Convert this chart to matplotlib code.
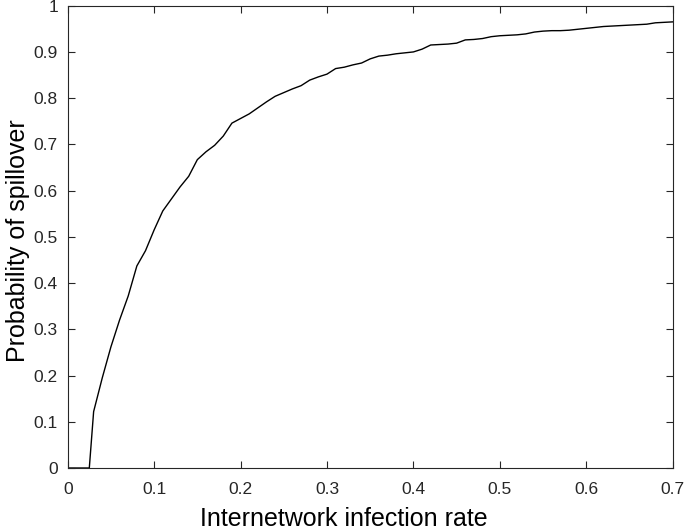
import matplotlib
matplotlib.use("Agg")
import matplotlib.pyplot as plt

plt.rcParams['font.family'] = ['Liberation Sans', 'DejaVu Sans']

x_rate = [0.0, 0.01, 0.02, 0.025, 0.03, 0.04, 0.05, 0.06, 0.07, 0.08, 0.09,
          0.10, 0.11, 0.12, 0.13, 0.14, 0.15, 0.16, 0.17, 0.18, 0.19,
          0.20, 0.21, 0.22, 0.23, 0.24, 0.25, 0.26, 0.27, 0.28, 0.29,
          0.30, 0.31, 0.32, 0.33, 0.34, 0.35, 0.36, 0.37, 0.38, 0.39,
          0.40, 0.41, 0.42, 0.43, 0.44, 0.45, 0.46, 0.47, 0.48, 0.49,
          0.50, 0.51, 0.52, 0.53, 0.54, 0.55, 0.56, 0.57, 0.58, 0.59,
          0.60, 0.61, 0.62, 0.63, 0.64, 0.65, 0.66, 0.67, 0.68, 0.69, 0.70]
p_spill = [0.0, 0.0, 0.0, 0.0, 0.122, 0.195, 0.262, 0.320, 0.372, 0.437, 0.470,
           0.515, 0.556, 0.582, 0.608, 0.631, 0.667, 0.684, 0.698, 0.718, 0.746,
           0.756, 0.766, 0.779, 0.792, 0.804, 0.812, 0.820, 0.827, 0.839, 0.846,
           0.852, 0.864, 0.867, 0.872, 0.876, 0.885, 0.891, 0.893, 0.896, 0.898,
           0.900, 0.906, 0.915, 0.916, 0.917, 0.919, 0.926, 0.927, 0.929, 0.933,
           0.935, 0.936, 0.937, 0.939, 0.943, 0.945, 0.946, 0.946, 0.947, 0.949,
           0.951, 0.953, 0.955, 0.956, 0.957, 0.958, 0.959, 0.960, 0.963, 0.964, 0.965]

xticks = [0, 0.1, 0.2, 0.3, 0.4, 0.5, 0.6, 0.7]
xticklabels = ['0', '0.1', '0.2', '0.3', '0.4', '0.5', '0.6', '0.7']
yticks = [0, 0.1, 0.2, 0.3, 0.4, 0.5, 0.6, 0.7, 0.8, 0.9, 1]
yticklabels = ['0', '0.1', '0.2', '0.3', '0.4', '0.5', '0.6', '0.7', '0.8', '0.9', '1']

W, H = 685, 532
fig = plt.figure(figsize=(W / 100, H / 100), dpi=100)
ax = fig.add_axes([67.7 / W, 1 - 468 / H, (672.7 - 67.7) / W, (468 - 5.7) / H])
ax.plot(x_rate, p_spill, color='black', linewidth=1.0)
ax.set_xlim(0, 0.7)
ax.set_ylim(0, 1)
ax.set_xticks(xticks)
ax.set_xticklabels(xticklabels)
ax.set_yticks(yticks)
ax.set_yticklabels(yticklabels)
ax.tick_params(direction='in', length=5, width=0.8, top=True, right=True,
               labelsize=12.5, colors='#262626')
ax.tick_params(axis='x', pad=10)
ax.tick_params(axis='y', pad=7)
for s in ax.spines.values():
    s.set_color('#262626')
    s.set_linewidth(0.8)
ax.set_xlabel('Internetwork infection rate', fontsize=18, color='black')
ax.xaxis.label.set_va('baseline')
ax.xaxis.set_label_coords(344 / W, 6 / H, transform=fig.transFigure)
ax.set_ylabel('Probability of spillover', fontsize=18, color='black')
ax.yaxis.set_label_coords(30 / W, 1 - 241 / H, transform=fig.transFigure)
fig.savefig('out.png', dpi=100)
